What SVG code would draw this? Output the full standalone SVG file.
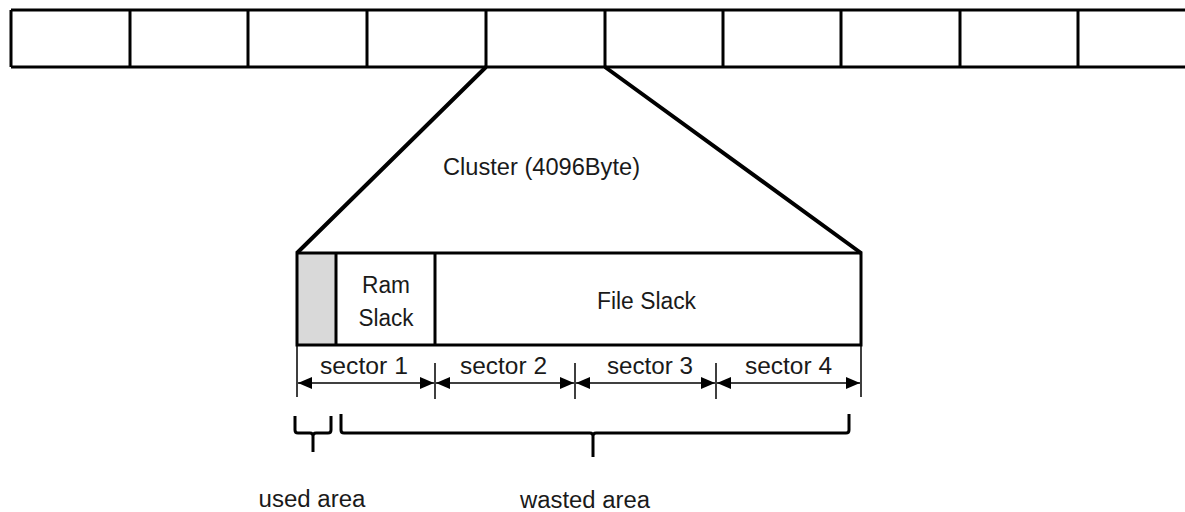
<svg xmlns="http://www.w3.org/2000/svg" width="1185" height="512" viewBox="0 0 1185 512">
<defs>
<style>
.thick{fill:none;stroke:#000;stroke-width:3}
.funnel{fill:none;stroke:#000;stroke-width:4}
.thin{fill:none;stroke:#000;stroke-width:1.5}
.brace{fill:none;stroke:#000;stroke-width:3;stroke-linejoin:round}
.lbl{font-family:"Liberation Sans",Arial,sans-serif;font-size:23px;fill:#1a1a1a;text-anchor:middle}
</style>
<marker id="ah" viewBox="0 0 14 12" refX="14" refY="6" markerWidth="14" markerHeight="12" markerUnits="userSpaceOnUse" orient="auto-start-reverse">
<path d="M0,0 L14,6 L0,12 Z" fill="#000"/>
</marker>
</defs>
<rect width="1185" height="512" fill="#fff"/>
<g id="disk-bar">
<path class="thick" d="M11,10 H1190 M11,67 H1190 M11,10 V67 M130,10 V67 M248,10 V67 M367,10 V67 M486,10 V67 M605,10 V67 M723,10 V67 M841,10 V67 M960,10 V67 M1078,10 V67"/>
</g>
<g id="connectors">
<path class="funnel" d="M486,67 L297,253 M605,67 L861,253"/>
<path class="thin" d="M297,345 V397 M435,363 V399 M575,363 V399 M716,363 V399 M861,345 V397"/>
<line class="thin" x1="298" y1="383" x2="434" y2="383" marker-start="url(#ah)" marker-end="url(#ah)"/>
<line class="thin" x1="436" y1="383" x2="574" y2="383" marker-start="url(#ah)" marker-end="url(#ah)"/>
<line class="thin" x1="576" y1="383" x2="715" y2="383" marker-start="url(#ah)" marker-end="url(#ah)"/>
<line class="thin" x1="717" y1="383" x2="860" y2="383" marker-start="url(#ah)" marker-end="url(#ah)"/>
</g>
<g id="cluster-label">
<text class="lbl" x="541.5" y="175" textLength="197" lengthAdjust="spacingAndGlyphs">Cluster (4096Byte)</text>
</g>
<g id="cluster-box">
<rect x="297" y="253" width="39" height="92" fill="#d9d9d9"/>
<rect class="thick" x="297" y="253" width="564" height="92"/>
<path class="thick" d="M336,253 V345 M435,253 V345"/>
</g>
<g id="ram-slack">
<text class="lbl" x="386" y="293" textLength="48" lengthAdjust="spacingAndGlyphs">Ram</text>
<text class="lbl" x="386" y="326" textLength="55" lengthAdjust="spacingAndGlyphs">Slack</text>
</g>
<g id="file-slack">
<text class="lbl" x="646.5" y="309" textLength="99" lengthAdjust="spacingAndGlyphs">File Slack</text>
</g>
<g id="sector-labels">
<text class="lbl" x="364" y="374" textLength="88" lengthAdjust="spacingAndGlyphs">sector 1</text>
<text class="lbl" x="503.5" y="374" textLength="87" lengthAdjust="spacingAndGlyphs">sector 2</text>
<text class="lbl" x="650" y="374" textLength="86" lengthAdjust="spacingAndGlyphs">sector 3</text>
<text class="lbl" x="788.5" y="374" textLength="87" lengthAdjust="spacingAndGlyphs">sector 4</text>
</g>
<g id="used-area">
<path class="brace" d="M295,416 V430 Q295,433 298,433 H310 Q313,433 313,436 V452 M331,416 V430 Q331,433 328,433 H316 Q313,433 313,436"/>
<text class="lbl" x="312" y="507" textLength="107" lengthAdjust="spacingAndGlyphs">used area</text>
</g>
<g id="wasted-area">
<path class="brace" d="M341,414 V430 Q341,433 344,433 H590 Q593,433 593,436 V457 M849,414 V430 Q849,433 846,433 H596 Q593,433 593,436"/>
<text class="lbl" x="585" y="508" textLength="130" lengthAdjust="spacingAndGlyphs">wasted area</text>
</g>
</svg>
